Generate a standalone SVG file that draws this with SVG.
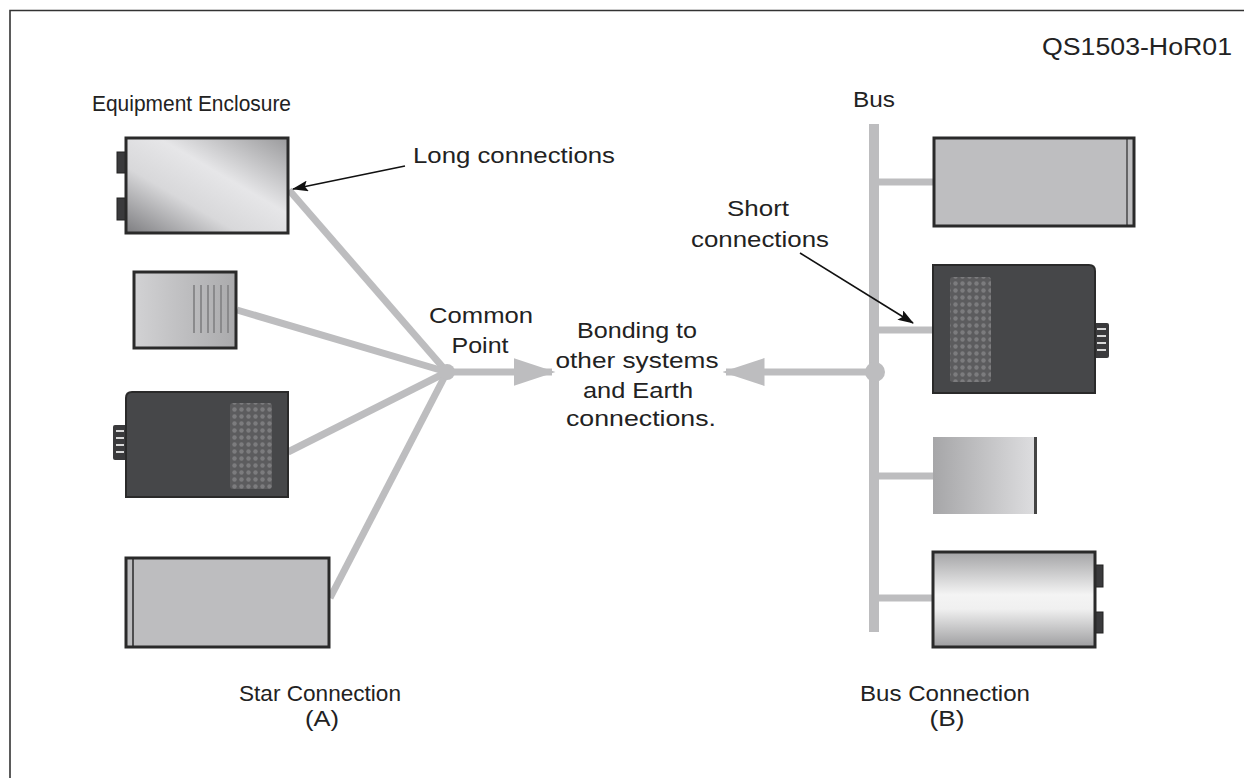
<svg xmlns="http://www.w3.org/2000/svg" width="1244" height="778" viewBox="0 0 1244 778">
  <defs>
    <style>
      text { font-family: "Liberation Sans", Arial, sans-serif; font-size: 22px; fill: #222; }
      .mid { text-anchor: middle; }
      .wire { stroke: #bdbdbf; stroke-width: 7; fill: none; }
      .box { stroke: #2a2a2a; stroke-width: 3; }
      .tab { fill: #3a3a3c; stroke: #222; stroke-width: 1; }
      .ptr { stroke: #111; stroke-width: 1.6; fill: none; }
    </style>
    <linearGradient id="gSteel" x1="0" y1="1" x2="1" y2="0">
      <stop offset="0" stop-color="#7d7d80"/>
      <stop offset="0.35" stop-color="#d8d8da"/>
      <stop offset="0.6" stop-color="#e6e6e8"/>
      <stop offset="1" stop-color="#9a9a9c"/>
    </linearGradient>
    <linearGradient id="gSide" x1="0" y1="0" x2="1" y2="0">
      <stop offset="0" stop-color="#d2d2d4"/>
      <stop offset="1" stop-color="#aaaaac"/>
    </linearGradient>
    <linearGradient id="gFade" x1="0" y1="0" x2="1" y2="0">
      <stop offset="0" stop-color="#a6a6a8"/>
      <stop offset="1" stop-color="#dedee0"/>
    </linearGradient>
    <linearGradient id="gDrum" x1="0" y1="0" x2="0" y2="1">
      <stop offset="0" stop-color="#a4a4a6"/>
      <stop offset="0.45" stop-color="#f4f4f4"/>
      <stop offset="0.6" stop-color="#f0f0f0"/>
      <stop offset="1" stop-color="#9e9ea0"/>
    </linearGradient>
    <pattern id="pDots" x="0" y="0" width="7" height="7" patternUnits="userSpaceOnUse">
      <rect width="7" height="7" fill="#5c5c5e"/>
      <circle cx="3.5" cy="3.5" r="2.2" fill="#7c7c7e"/>
    </pattern>
    <marker id="mGray" markerWidth="6" markerHeight="4" refX="5.5" refY="2" orient="auto" markerUnits="strokeWidth">
      <path d="M0,0 L6,2 L0,4 Z" fill="#bdbdbf"/>
    </marker>
    <marker id="mBlack" markerWidth="16" markerHeight="11" refX="15" refY="5.5" orient="auto" markerUnits="userSpaceOnUse">
      <path d="M0,0 L16,5.5 L0,11 L3,5.5 Z" fill="#111"/>
    </marker>
  </defs>

  <rect width="1244" height="778" fill="#fff"/>
  <!-- frame -->
  <path d="M10,778 V10.5 H1244" fill="none" stroke="#333" stroke-width="1.6"/>

  <text x="1232" y="55" style="text-anchor:end; font-size:23px" textLength="190" lengthAdjust="spacingAndGlyphs">QS1503-HoR01</text>

  <!-- connectors -->
  <g id="connectors">
    <line class="wire" x1="289" y1="190" x2="447" y2="372"/>
    <line class="wire" x1="237" y1="310" x2="447" y2="372"/>
    <line class="wire" x1="288" y1="452" x2="447" y2="372"/>
    <line class="wire" x1="330" y1="598" x2="447" y2="372"/>
    <circle cx="447" cy="372" r="8" fill="#bdbdbf"/>
    <line class="wire" x1="447" y1="372" x2="552" y2="372" marker-end="url(#mGray)"/>

    <line x1="874" y1="124" x2="874" y2="632" stroke="#bdbdbf" stroke-width="10"/>
    <line class="wire" x1="874" y1="182" x2="934" y2="182"/>
    <line class="wire" x1="874" y1="330" x2="933" y2="330"/>
    <line class="wire" x1="874" y1="476" x2="933" y2="476"/>
    <line class="wire" x1="874" y1="598" x2="933" y2="598"/>
    <circle cx="875" cy="372" r="10" fill="#bdbdbf"/>
    <line class="wire" x1="875" y1="372" x2="726" y2="372" marker-end="url(#mGray)"/>

    <line class="ptr" x1="405" y1="166" x2="293" y2="189" marker-end="url(#mBlack)"/>
    <line class="ptr" x1="800" y1="253" x2="913" y2="323" marker-end="url(#mBlack)"/>
  </g>

  <!-- star side -->
  <g id="enclosure-a1">
    <rect class="tab" x="117" y="152" width="9" height="21"/>
    <rect class="tab" x="117" y="198" width="9" height="22"/>
    <rect class="box" x="126" y="138" width="162" height="95" fill="url(#gSteel)"/>
  </g>
  <g id="enclosure-a2">
    <rect class="box" x="134" y="272" width="102" height="76" fill="url(#gSide)"/>
    <g stroke="#8a8a8c" stroke-width="2">
      <line x1="194" y1="285" x2="194" y2="333"/>
      <line x1="201" y1="285" x2="201" y2="333"/>
      <line x1="208" y1="285" x2="208" y2="333"/>
      <line x1="214" y1="285" x2="214" y2="333"/>
      <line x1="221" y1="285" x2="221" y2="333"/>
      <line x1="228" y1="285" x2="228" y2="333"/>
    </g>
  </g>
  <g id="enclosure-a3">
    <rect x="113" y="425" width="14" height="35" rx="2" fill="#3a3a3c"/>
    <g stroke="#d8d8d8" stroke-width="2">
      <line x1="116" y1="431" x2="124" y2="431"/>
      <line x1="116" y1="438" x2="124" y2="438"/>
      <line x1="116" y1="445" x2="124" y2="445"/>
      <line x1="116" y1="452" x2="124" y2="452"/>
    </g>
    <path d="M132,392 H288 V497 H126 V398 Q126,392 132,392 Z" fill="#464749" stroke="#2a2a2a" stroke-width="2"/>
    <rect x="230" y="403" width="42" height="86" rx="3" fill="url(#pDots)"/>
  </g>
  <g id="enclosure-a4">
    <rect class="box" x="126" y="558" width="203" height="89" fill="#bdbdbf"/>
    <line x1="133" y1="559" x2="133" y2="646" stroke="#2a2a2a" stroke-width="1.5"/>
  </g>

  <!-- bus side -->
  <g id="enclosure-b1">
    <rect class="box" x="934" y="138" width="200" height="88" fill="#bebec0"/>
    <line x1="1127" y1="139" x2="1127" y2="225" stroke="#2a2a2a" stroke-width="1.2"/>
  </g>
  <g id="enclosure-b2">
    <rect x="1094" y="323" width="15" height="35" rx="2" fill="#3a3a3c"/>
    <g stroke="#d8d8d8" stroke-width="2">
      <line x1="1097" y1="329" x2="1106" y2="329"/>
      <line x1="1097" y1="336" x2="1106" y2="336"/>
      <line x1="1097" y1="343" x2="1106" y2="343"/>
      <line x1="1097" y1="350" x2="1106" y2="350"/>
    </g>
    <path d="M933,265 H1089 Q1095,265 1095,271 V393 H933 Z" fill="#464749" stroke="#2a2a2a" stroke-width="2"/>
    <rect x="950" y="277" width="41" height="105" rx="3" fill="url(#pDots)"/>
  </g>
  <g id="enclosure-b3">
    <rect x="933" y="437" width="103" height="77" fill="url(#gFade)"/>
    <line x1="1035.5" y1="437" x2="1035.5" y2="514" stroke="#444" stroke-width="3"/>
  </g>
  <g id="enclosure-b4">
    <rect class="tab" x="1094" y="565" width="9" height="22"/>
    <rect class="tab" x="1094" y="612" width="9" height="21"/>
    <rect class="box" x="933" y="552" width="162" height="95" fill="url(#gDrum)"/>
  </g>

  <!-- labels -->
  <g id="labels" style="" >
    <text x="92" y="111" textLength="199" lengthAdjust="spacingAndGlyphs">Equipment Enclosure</text>
    <text x="413" y="163" textLength="202" lengthAdjust="spacingAndGlyphs">Long connections</text>
    <text class="mid" x="481" y="323" textLength="104" lengthAdjust="spacingAndGlyphs">Common</text>
    <text class="mid" x="480" y="353" textLength="57" lengthAdjust="spacingAndGlyphs">Point</text>
    <text class="mid" x="637" y="338" textLength="120" lengthAdjust="spacingAndGlyphs">Bonding to</text>
    <text class="mid" x="637" y="368" textLength="163" lengthAdjust="spacingAndGlyphs">other systems</text>
    <text class="mid" x="638" y="398" textLength="110" lengthAdjust="spacingAndGlyphs">and Earth</text>
    <text class="mid" x="641" y="426" textLength="150" lengthAdjust="spacingAndGlyphs">connections.</text>
    <text x="853" y="107" textLength="42" lengthAdjust="spacingAndGlyphs">Bus</text>
    <text class="mid" x="758" y="216" textLength="62" lengthAdjust="spacingAndGlyphs">Short</text>
    <text class="mid" x="760" y="247" textLength="138" lengthAdjust="spacingAndGlyphs">connections</text>
    <text class="mid" x="320" y="701" textLength="162" lengthAdjust="spacingAndGlyphs">Star Connection</text>
    <text class="mid" x="322" y="726" textLength="34" lengthAdjust="spacingAndGlyphs">(A)</text>
    <text class="mid" x="945" y="701" textLength="170" lengthAdjust="spacingAndGlyphs">Bus Connection</text>
    <text class="mid" x="947" y="726" textLength="35" lengthAdjust="spacingAndGlyphs">(B)</text>
  </g>
</svg>
